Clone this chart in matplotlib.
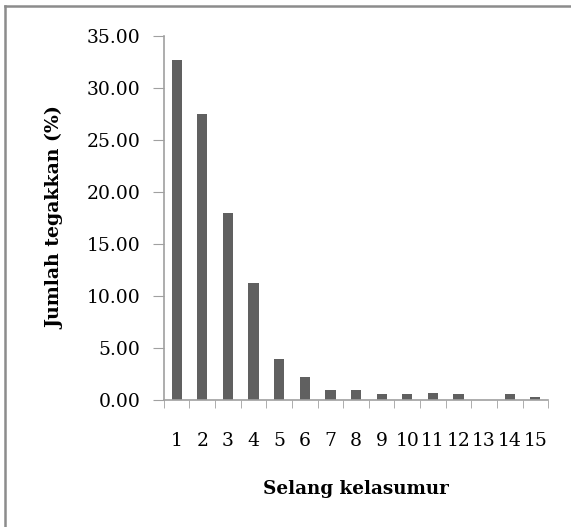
import numpy as np
import matplotlib.pyplot as plt
from matplotlib.lines import Line2D

# age class interval and percentage of stands
kelas = [str(i) for i in range(1, 16)]
jumlah = [32.7, 27.5, 18.0, 11.2, 3.9, 2.2, 0.93, 0.93, 0.55, 0.55, 0.67, 0.55, 0.0, 0.55, 0.3]
yticks = [0, 5, 10, 15, 20, 25, 30, 35]

plt.rcParams['font.family'] = ['DejaVu Serif']

fig = plt.figure(figsize=(5.71, 5.27), dpi=100)
ax = fig.add_axes([0.287, 0.241, 0.673, 0.691])

x = np.arange(len(kelas))
ax.bar(x, jumlah, width=0.4, color='#606060')

ax.set_xlim(-0.5, len(kelas) - 0.5)
ax.set_ylim(0, 35)
ax.set_yticks(yticks)
ax.set_yticklabels([f'{v:.2f}' for v in yticks], fontsize=13.5)
ax.set_xticks(x)
ax.set_xticklabels(kelas, fontsize=13.5)
ax.set_xticks(np.arange(-0.5, len(kelas)), minor=True)
ax.tick_params(axis='x', which='major', length=0, pad=23)
ax.tick_params(axis='x', which='minor', length=6, color='#a0a0a0', direction='out')
ax.tick_params(axis='y', length=8, color='#a0a0a0', direction='out', pad=9)

for s in ['top', 'right']:
    ax.spines[s].set_visible(False)
for s in ['left', 'bottom']:
    ax.spines[s].set_color('#a0a0a0')
    ax.spines[s].set_linewidth(1.2)

fig.text(0.097, 0.587, 'Jumlah tegakkan (%)', rotation=90, ha='center', va='center',
         fontsize=13.6, fontweight='bold')
fig.text(0.624, 0.073, 'Selang kelasumur', ha='center', va='center',
         fontsize=13.2, fontweight='bold')

# frame: only top and left edges show in the reference
fig.lines.append(Line2D([0.008, 1.0], [0.988, 0.988], transform=fig.transFigure,
                        color='#8c8c8c', linewidth=1.8))
fig.lines.append(Line2D([0.008, 0.008], [0.0, 0.988], transform=fig.transFigure,
                        color='#8c8c8c', linewidth=1.8))

fig.savefig('out.png', dpi=100)
